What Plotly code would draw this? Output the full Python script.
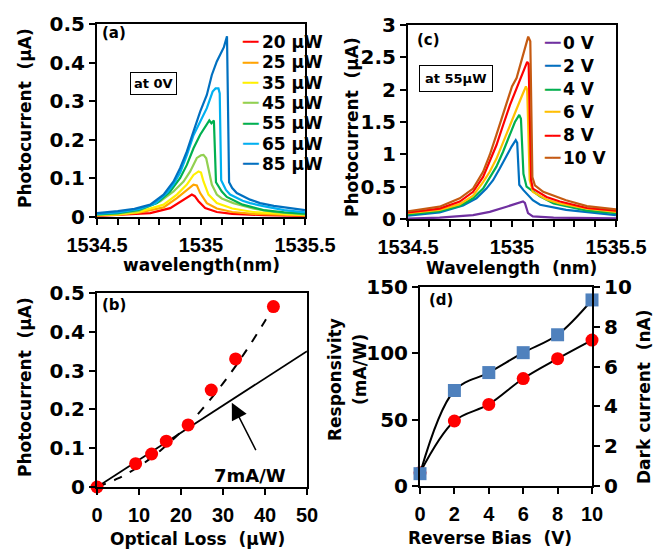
import plotly.graph_objects as go

# ---------------- Panel (a): photocurrent spectra at 0 V ----------------
a_names = ["20 µW", "25 µW", "35 µW", "45 µW", "55 µW", "65 µW", "85 µW"]
a_colors = ["#FF0000", "#FFA500", "#FFF000", "#92D050", "#00B050", "#00B0F0", "#0070C0"]

wl_20 = [1534.5, 1534.6, 1534.756, 1534.852, 1534.916, 1534.945, 1534.956, 1534.97, 1534.988, 1535.02, 1535.076, 1535.15, 1535.3, 1535.5]
pc_20 = [0.003, 0.005, 0.010, 0.023, 0.045, 0.056, 0.058, 0.054, 0.041, 0.023, 0.013, 0.008, 0.005, 0.003]
wl_25 = [1534.5, 1534.6, 1534.7, 1534.82, 1534.884, 1534.932, 1534.964, 1534.98, 1534.996, 1535.028, 1535.076, 1535.15, 1535.25, 1535.5]
pc_25 = [0.004, 0.006, 0.011, 0.025, 0.049, 0.071, 0.084, 0.082, 0.062, 0.036, 0.022, 0.013, 0.008, 0.004]
wl_35 = [1534.5, 1534.6, 1534.7, 1534.82, 1534.884, 1534.932, 1534.964, 1534.988, 1535.0, 1535.012, 1535.036, 1535.076, 1535.15, 1535.25, 1535.5]
pc_35 = [0.005, 0.007, 0.013, 0.032, 0.058, 0.084, 0.109, 0.118, 0.115, 0.092, 0.058, 0.036, 0.022, 0.013, 0.005]
wl_45 = [1534.5, 1534.6, 1534.7, 1534.804, 1534.868, 1534.916, 1534.948, 1534.98, 1535.0, 1535.012, 1535.025, 1535.036, 1535.052, 1535.076, 1535.1, 1535.156, 1535.25, 1535.35, 1535.5]
pc_45 = [0.006, 0.009, 0.016, 0.041, 0.066, 0.092, 0.118, 0.153, 0.160, 0.161, 0.152, 0.127, 0.084, 0.058, 0.048, 0.036, 0.022, 0.013, 0.007]
wl_55 = [1534.5, 1534.6, 1534.7, 1534.788, 1534.852, 1534.9, 1534.932, 1534.964, 1534.996, 1535.028, 1535.04, 1535.05, 1535.062, 1535.072, 1535.1, 1535.124, 1535.2, 1535.3, 1535.4, 1535.5]
pc_55 = [0.007, 0.010, 0.018, 0.036, 0.066, 0.101, 0.135, 0.178, 0.213, 0.239, 0.250, 0.243, 0.250, 0.090, 0.066, 0.052, 0.032, 0.018, 0.012, 0.009]
wl_65 = [1534.5, 1534.6, 1534.7, 1534.78, 1534.84, 1534.868, 1534.9, 1534.932, 1534.964, 1534.996, 1535.028, 1535.056, 1535.07, 1535.084, 1535.09, 1535.097, 1535.12, 1535.14, 1535.2, 1535.236, 1535.3, 1535.4, 1535.5]
pc_65 = [0.008, 0.012, 0.020, 0.035, 0.065, 0.085, 0.115, 0.160, 0.212, 0.247, 0.282, 0.325, 0.333, 0.333, 0.320, 0.095, 0.070, 0.058, 0.042, 0.036, 0.028, 0.018, 0.012]
wl_85 = [1534.5, 1534.6, 1534.68, 1534.756, 1534.82, 1534.868, 1534.9, 1534.932, 1534.964, 1534.996, 1535.028, 1535.052, 1535.076, 1535.092, 1535.11, 1535.125, 1535.135, 1535.15, 1535.172, 1535.236, 1535.284, 1535.35, 1535.42, 1535.5]
pc_85 = [0.010, 0.015, 0.021, 0.032, 0.058, 0.092, 0.127, 0.170, 0.222, 0.273, 0.316, 0.368, 0.403, 0.420, 0.440, 0.468, 0.090, 0.075, 0.062, 0.045, 0.036, 0.029, 0.023, 0.018]

a_wl = [wl_20, wl_25, wl_35, wl_45, wl_55, wl_65, wl_85]
a_pc = [pc_20, pc_25, pc_35, pc_45, pc_55, pc_65, pc_85]

# ---------------- Panel (c): photocurrent spectra at 55 µW ----------------
c_names = ["0 V", "2 V", "4 V", "6 V", "8 V", "10 V"]
c_colors = ["#7030A0", "#0070C0", "#00B050", "#FFC000", "#FF0000", "#C55A11"]

wl_0v = [1534.5, 1534.652, 1534.813, 1534.893, 1534.974, 1535.02, 1535.053, 1535.062, 1535.077, 1535.1, 1535.2, 1535.5]
pc_0v = [0.005, 0.020, 0.060, 0.110, 0.190, 0.230, 0.270, 0.250, 0.090, 0.040, 0.020, 0.010]
wl_2v = [1534.5, 1534.652, 1534.765, 1534.829, 1534.877, 1534.909, 1534.941, 1534.974, 1534.998, 1535.018, 1535.025, 1535.035, 1535.054, 1535.1, 1535.135, 1535.26, 1535.5]
pc_2v = [0.050, 0.100, 0.210, 0.320, 0.470, 0.600, 0.780, 0.990, 1.120, 1.220, 1.180, 0.530, 0.450, 0.290, 0.220, 0.140, 0.060]
wl_4v = [1534.5, 1534.652, 1534.749, 1534.813, 1534.861, 1534.893, 1534.925, 1534.957, 1534.99, 1535.014, 1535.035, 1535.043, 1535.055, 1535.07, 1535.134, 1535.2, 1535.36, 1535.5]
pc_4v = [0.070, 0.120, 0.200, 0.320, 0.470, 0.630, 0.810, 1.040, 1.300, 1.500, 1.610, 1.550, 0.700, 0.500, 0.350, 0.240, 0.130, 0.090]
wl_6v = [1534.5, 1534.652, 1534.749, 1534.813, 1534.861, 1534.893, 1534.925, 1534.957, 1534.99, 1535.022, 1535.046, 1535.067, 1535.073, 1535.085, 1535.1, 1535.166, 1535.23, 1535.36, 1535.5]
pc_6v = [0.090, 0.140, 0.230, 0.360, 0.570, 0.730, 0.930, 1.190, 1.450, 1.710, 1.890, 2.050, 2.000, 0.600, 0.420, 0.300, 0.240, 0.160, 0.110]
wl_8v = [1534.5, 1534.652, 1534.749, 1534.813, 1534.861, 1534.893, 1534.925, 1534.957, 1534.99, 1535.022, 1535.054, 1535.073, 1535.08, 1535.092, 1535.1, 1535.166, 1535.23, 1535.36, 1535.5]
pc_8v = [0.100, 0.160, 0.270, 0.420, 0.650, 0.890, 1.140, 1.450, 1.760, 2.020, 2.280, 2.430, 2.400, 0.600, 0.470, 0.340, 0.270, 0.170, 0.130]
wl_10v = [1534.5, 1534.652, 1534.749, 1534.813, 1534.861, 1534.893, 1534.925, 1534.957, 1534.99, 1535.0, 1535.022, 1535.046, 1535.062, 1535.078, 1535.088, 1535.098, 1535.11, 1535.15, 1535.26, 1535.36, 1535.5]
pc_10v = [0.120, 0.190, 0.320, 0.470, 0.730, 0.990, 1.300, 1.610, 1.920, 2.050, 2.180, 2.460, 2.610, 2.820, 2.750, 0.650, 0.520, 0.420, 0.290, 0.200, 0.150]

c_wl = [wl_0v, wl_2v, wl_4v, wl_6v, wl_8v, wl_10v]
c_pc = [pc_0v, pc_2v, pc_4v, pc_6v, pc_8v, pc_10v]

# ---------------- Panel (b): photocurrent vs optical loss ----------------
b_loss = [0, 9.2, 13, 16.5, 21.7, 27.2, 33, 42]
b_pc = [0, 0.06, 0.085, 0.118, 0.16, 0.25, 0.33, 0.465]
b_lin_x = [0, 50]
b_lin_y = [0, 0.35]
b_fit_x = [0, 5, 10, 15, 20, 25, 30, 35, 40, 43]
b_fit_y = [0, 0.022, 0.053, 0.093, 0.142, 0.200, 0.267, 0.343, 0.428, 0.483]

# ---------------- Panel (d): responsivity & dark current vs bias ----------------
d_bias = [0, 2, 4, 6, 8, 10]
d_resp = [10, 49, 61.5, 81, 96, 110]
d_dark = [0.62, 4.8, 5.7, 6.7, 7.6, 9.35]

FONT = "DejaVu Sans"
XFONT = "Liberation Sans"
W, H = 654, 551


def px(x):
    return x / W


def py(y):
    return 1 - y / H


fig = go.Figure()

for i in range(len(a_names)):
    fig.add_trace(go.Scatter(x=a_wl[i], y=a_pc[i], mode="lines", name=a_names[i],
                             line=dict(color=a_colors[i], width=2.2),
                             xaxis="x", yaxis="y", showlegend=False))
for i in range(len(c_names)):
    fig.add_trace(go.Scatter(x=c_wl[i], y=c_pc[i], mode="lines", name=c_names[i],
                             line=dict(color=c_colors[i], width=2.2),
                             xaxis="x2", yaxis="y2", showlegend=False))

fig.add_trace(go.Scatter(x=b_lin_x, y=b_lin_y, mode="lines", line=dict(color="black", width=1.8),
                         xaxis="x3", yaxis="y3", showlegend=False))
fig.add_trace(go.Scatter(x=b_fit_x, y=b_fit_y, mode="lines",
                         line=dict(color="black", width=2, dash="dash", shape="spline"),
                         xaxis="x3", yaxis="y3", showlegend=False))
fig.add_trace(go.Scatter(x=b_loss, y=b_pc, mode="markers", marker=dict(color="#FF0000", size=13),
                         cliponaxis=False, xaxis="x3", yaxis="y3", showlegend=False))

fig.add_trace(go.Scatter(x=d_bias, y=d_resp, mode="lines+markers",
                         line=dict(color="black", width=2, shape="spline"),
                         marker=dict(color="#FF0000", size=13, symbol="circle"),
                         cliponaxis=False, xaxis="x4", yaxis="y4", showlegend=False))
fig.add_trace(go.Scatter(x=d_bias, y=d_dark, mode="lines+markers",
                         line=dict(color="black", width=2, shape="spline"),
                         marker=dict(color="#4F81BD", size=13, symbol="square"),
                         cliponaxis=False, xaxis="x4", yaxis="y5", showlegend=False))

base = dict(showline=True, linecolor="black", linewidth=2, ticks="outside", ticklen=6,
            tickwidth=2, tickcolor="black", showgrid=False, zeroline=False, automargin=False)
xcommon = dict(base, tickfont=dict(family=XFONT, size=20, color="black", weight="bold"),
               ticklabelstandoff=3)
ycommon = dict(base, tickfont=dict(family=FONT, size=20, color="black", weight="bold"))
minor_x = dict(dtick=0.1, tick0=1534.5, ticks="outside", ticklen=6, tickwidth=2, tickcolor="black")

layout_axes = dict(
    xaxis=dict(domain=[px(97), px(305)], range=[1534.5, 1535.5], anchor="y", mirror=True,
               tickvals=[1534.5, 1535, 1535.5], ticktext=["1534.5", "1535", "1535.5"],
               minor=minor_x, **xcommon),
    yaxis=dict(domain=[py(217), py(24)], range=[0, 0.5], dtick=0.1, anchor="x", mirror=True, **ycommon),
    xaxis2=dict(domain=[px(408), px(616)], range=[1534.5, 1535.5], anchor="y2", mirror=True,
                tickvals=[1534.5, 1535, 1535.5], ticktext=["1534.5", "1535", "1535.5"],
                minor=minor_x, **xcommon),
    yaxis2=dict(domain=[py(219), py(25)], range=[0, 3], dtick=0.5, anchor="x2", mirror=True, **ycommon),
    xaxis3=dict(domain=[px(97), px(307)], range=[0, 50], dtick=10, anchor="y3", mirror=True, **xcommon),
    yaxis3=dict(domain=[py(487), py(293)], range=[0, 0.5], dtick=0.1, anchor="x3", mirror=True, **ycommon),
    xaxis4=dict(domain=[px(420), px(592)], range=[0, 10], dtick=2, anchor="y4", mirror=True, **xcommon),
    yaxis4=dict(domain=[py(486), py(287)], range=[0, 150], dtick=50, anchor="x4", **ycommon),
    yaxis5=dict(range=[0, 10], dtick=2, anchor="x4", overlaying="y4", side="right", **ycommon),
)


def ann(text, x, y, size, angle=0, color="black", xanchor="center"):
    return dict(text=text, x=px(x), y=py(y), xref="paper", yref="paper", showarrow=False,
                textangle=angle, xanchor=xanchor, yanchor="middle",
                font=dict(family=FONT, size=size, color=color, weight="bold"))


annotations = [
    ann("Photocurrent  (µA)", 25, 118, 17, -90),
    ann("wavelength(nm)", 201, 265, 17),
    ann("Photocurrent  (µA)", 352, 127, 17, -90),
    ann("Wavelength  (nm)", 511, 268, 17),
    ann("Photocurrent  (µA)", 25, 387, 17, -90),
    ann("Optical Loss  (µW)", 197, 539, 17),
    ann("Responsivity", 335, 380, 17, -90),
    ann("(mA/W)", 360, 370, 17, -90),
    ann("Dark current  (nA)", 644, 397, 17, -90),
    ann("Reverse Bias  (V)", 490, 538, 17),
    ann("(a)", 114, 33, 15),
    ann("(c)", 428, 40, 15),
    ann("(b)", 114, 305, 15),
    ann("(d)", 441, 300, 15),
    dict(text="at 0V", x=1534.77, y=0.347, xref="x", yref="y", showarrow=False,
         font=dict(family=FONT, size=13, color="black", weight="bold"),
         bordercolor="black", borderwidth=1, borderpad=3, bgcolor="white"),
    dict(text="at 55µW", x=1534.73, y=2.17, xref="x2", yref="y2", showarrow=False,
         font=dict(family=FONT, size=13, color="black", weight="bold"),
         bordercolor="black", borderwidth=1, borderpad=5, bgcolor="white"),
    dict(text="7mA/W", x=36.5, y=0.03, xref="x3", yref="y3", showarrow=False,
         font=dict(family=FONT, size=18, color="black", weight="bold")),
    dict(text="", x=32.1, y=0.217, ax=38.0, ay=0.091, xref="x3", yref="y3", axref="x3", ayref="y3",
         showarrow=True, arrowhead=2, arrowsize=2.2, arrowwidth=1.5, arrowcolor="black"),
]

# legends drawn as text: coloured swatch + label
for i, name in enumerate(a_names):
    yy = 42 + 20.3 * i
    annotations.append(ann("━━", 250, yy, 13, color=a_colors[i]))
    annotations.append(ann(name, 260, yy, 17, xanchor="left"))
for i, name in enumerate(c_names):
    yy = 43 + 23 * i
    annotations.append(ann("━━", 552, yy, 13, color=c_colors[i]))
    annotations.append(ann(name, 561, yy, 17, xanchor="left"))

fig.update_layout(
    width=W, height=H, margin=dict(l=0, r=0, t=0, b=0, autoexpand=False),
    paper_bgcolor="white", plot_bgcolor="white",
    showlegend=False,
    annotations=annotations,
    **layout_axes,
)

# remove the default page margin so the 654x551 figure fills the window exactly
page_fix = ("document.body.style.margin='0';"
            "document.body.style.overflow='hidden';"
            "document.documentElement.style.overflow='hidden';")
fig.write_html("out.html", post_script=page_fix,
               config={"displayModeBar": False, "staticPlot": True})
